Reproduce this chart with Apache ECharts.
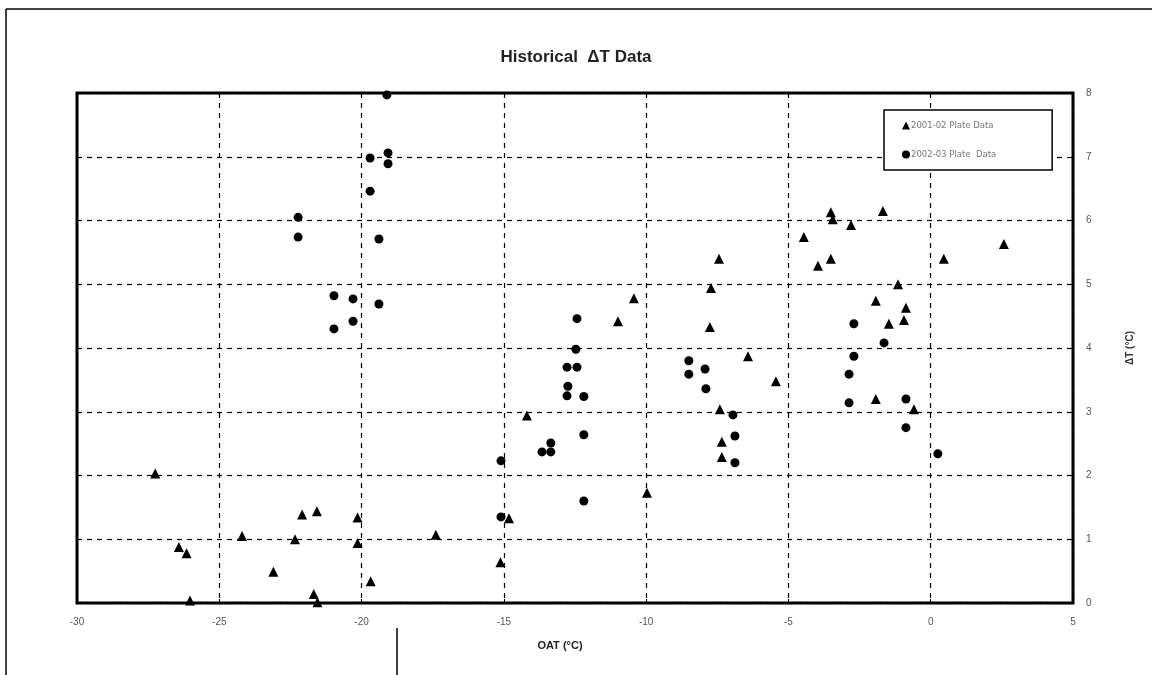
<!DOCTYPE html>
<html>
<head>
<meta charset="utf-8">
<style>
  html, body { margin: 0; padding: 0; background: #fff; }
  #chart { width: 1152px; height: 675px; }
</style>
<script src="https://cdn.jsdelivr.net/npm/echarts@6/dist/echarts.min.js"></script>
</head>
<body>
<div id="chart"></div>
<script>
// 2001-02 Plate Data  [OAT, dT]
const plate0102 = [
  [-27.25, 2.03], [-26.42, 0.88], [-26.15, 0.78], [-26.03, 0.04],
  [-24.2, 1.05], [-23.1, 0.49], [-22.34, 1.0], [-22.09, 1.39],
  [-21.57, 1.44], [-21.68, 0.14], [-21.55, 0.01], [-20.14, 1.34],
  [-20.14, 0.94], [-19.68, 0.34], [-17.39, 1.07], [-15.12, 0.64],
  [-14.82, 1.33], [-14.19, 2.94], [-9.97, 1.73], [-10.43, 4.78],
  [-10.99, 4.42], [-7.44, 5.4], [-7.72, 4.94], [-7.76, 4.33],
  [-6.42, 3.87], [-5.44, 3.48], [-7.41, 3.04], [-7.34, 2.53],
  [-7.34, 2.29], [-4.46, 5.74], [-3.51, 6.13], [-3.44, 6.02],
  [-2.8, 5.93], [-1.68, 6.15], [-3.96, 5.29], [-3.51, 5.4],
  [-1.15, 5.0], [-1.93, 4.74], [-0.87, 4.63], [-1.47, 4.38],
  [-0.94, 4.44], [-1.93, 3.2], [-0.59, 3.04], [0.46, 5.4],
  [2.57, 5.63]
]

// 2002-03 Plate Data  [OAT, dT]
const plate0203 = [
  [-19.11, 7.97], [-19.7, 6.98], [-19.07, 7.06], [-19.07, 6.89],
  [-19.7, 6.46], [-22.23, 6.05], [-22.23, 5.74], [-19.39, 5.71],
  [-20.97, 4.82], [-20.3, 4.77], [-19.39, 4.69], [-20.3, 4.42],
  [-20.97, 4.3], [-12.43, 4.46], [-12.47, 3.98], [-12.78, 3.7],
  [-12.43, 3.7], [-12.75, 3.4], [-12.78, 3.25], [-12.19, 3.24],
  [-12.19, 2.64], [-13.35, 2.51], [-13.66, 2.37], [-13.35, 2.37],
  [-15.1, 2.23], [-12.19, 1.6], [-15.1, 1.35], [-8.5, 3.8],
  [-8.5, 3.59], [-7.93, 3.67], [-7.9, 3.36], [-6.95, 2.95],
  [-6.88, 2.62], [-6.88, 2.2], [-2.7, 4.38], [-2.7, 3.87],
  [-2.87, 3.59], [-2.87, 3.14], [-1.64, 4.08], [-0.87, 3.2],
  [-0.87, 2.75], [0.25, 2.34]
]

const xTicks = [-30, -25, -20, -15, -10, -5, 0, 5]
const yTicks = [0, 1, 2, 3, 4, 5, 6, 7, 8]

const myChart = echarts.init(document.querySelector('#chart'))

const gridLine = {
  show: true,
  lineStyle: { color: '#000', type: [5, 5], width: 1.2 }
}

const option = {
  animation: false,
  textStyle: { fontFamily: 'Liberation Sans, Arial, sans-serif' },
  title: {
    text: 'Historical  \u0394T Data',
    left: 'center',
    top: 44,
    textStyle: { fontSize: 17, fontWeight: 'bold', color: '#222' }
  },
  grid: {
    left: 77,
    right: 79,
    top: 93,
    bottom: 72,
    show: true,
    borderColor: '#000',
    borderWidth: 3
  },
  // legend box, top right inside the plot
  legend: {
    orient: 'vertical',
    left: 884,
    top: 110,
    itemWidth: 8,
    itemHeight: 8,
    itemGap: 20,
    padding: [11, 56, 11, 18],
    borderColor: '#000',
    borderWidth: 1.5,
    backgroundColor: '#fff',
    textStyle: {
      fontSize: 8.5,
      fontFamily: 'DejaVu Sans',
      color: '#777',
      padding: [0, 0, 0, -4]
    },
    data: [
      { name: '2001-02 Plate Data', icon: 'triangle' },
      { name: '2002-03 Plate  Data', icon: 'circle' }
    ]
  },
  xAxis: {
    type: 'value',
    min: -30,
    max: 5,
    interval: 5,
    name: 'OAT (\u00b0C)',
    nameLocation: 'middle',
    nameGap: 37,
    nameTextStyle: { fontSize: 11, fontWeight: 'bold', color: '#222', padding: [0, 30, 0, 0] },
    axisLine: { show: false },
    axisTick: { show: true, inside: true, length: 4, lineStyle: { color: '#000' } },
    axisLabel: {
      fontSize: 10,
      color: '#555',
      margin: 14,
      customValues: xTicks,
      formatter: v => String(v)
    },
    splitLine: gridLine
  },
  yAxis: {
    type: 'value',
    position: 'right',
    min: 0,
    max: 8,
    interval: 1,
    name: '\u0394T (\u00b0C)',
    nameLocation: 'middle',
    nameRotate: 90,
    nameGap: 52,
    nameTextStyle: { fontSize: 10, fontWeight: 'bold', color: '#333' },
    axisLine: { show: false },
    axisTick: { show: false },
    axisLabel: {
      fontSize: 10,
      color: '#555',
      margin: 13,
      customValues: yTicks
    },
    splitLine: gridLine
  },
  series: [
    {
      name: '2001-02 Plate Data',
      type: 'scatter',
      symbol: 'triangle',
      symbolSize: 10,
      itemStyle: { color: '#000', opacity: 1 },
      data: plate0102
    },
    {
      name: '2002-03 Plate  Data',
      type: 'scatter',
      symbol: 'circle',
      symbolSize: 9,
      itemStyle: { color: '#000', opacity: 1 },
      data: plate0203
    }
  ],
  // outer frame lines of the original figure
  graphic: [
    { type: 'line', shape: { x1: 6, y1: 9, x2: 1152, y2: 9 }, style: { stroke: '#000', lineWidth: 1.5 } },
    { type: 'line', shape: { x1: 6, y1: 9, x2: 6, y2: 675 }, style: { stroke: '#000', lineWidth: 1.5 } },
    { type: 'line', shape: { x1: 397, y1: 628, x2: 397, y2: 675 }, style: { stroke: '#000', lineWidth: 1.5 } }
  ]
}

myChart.setOption(option)
</script>
</body>
</html>
